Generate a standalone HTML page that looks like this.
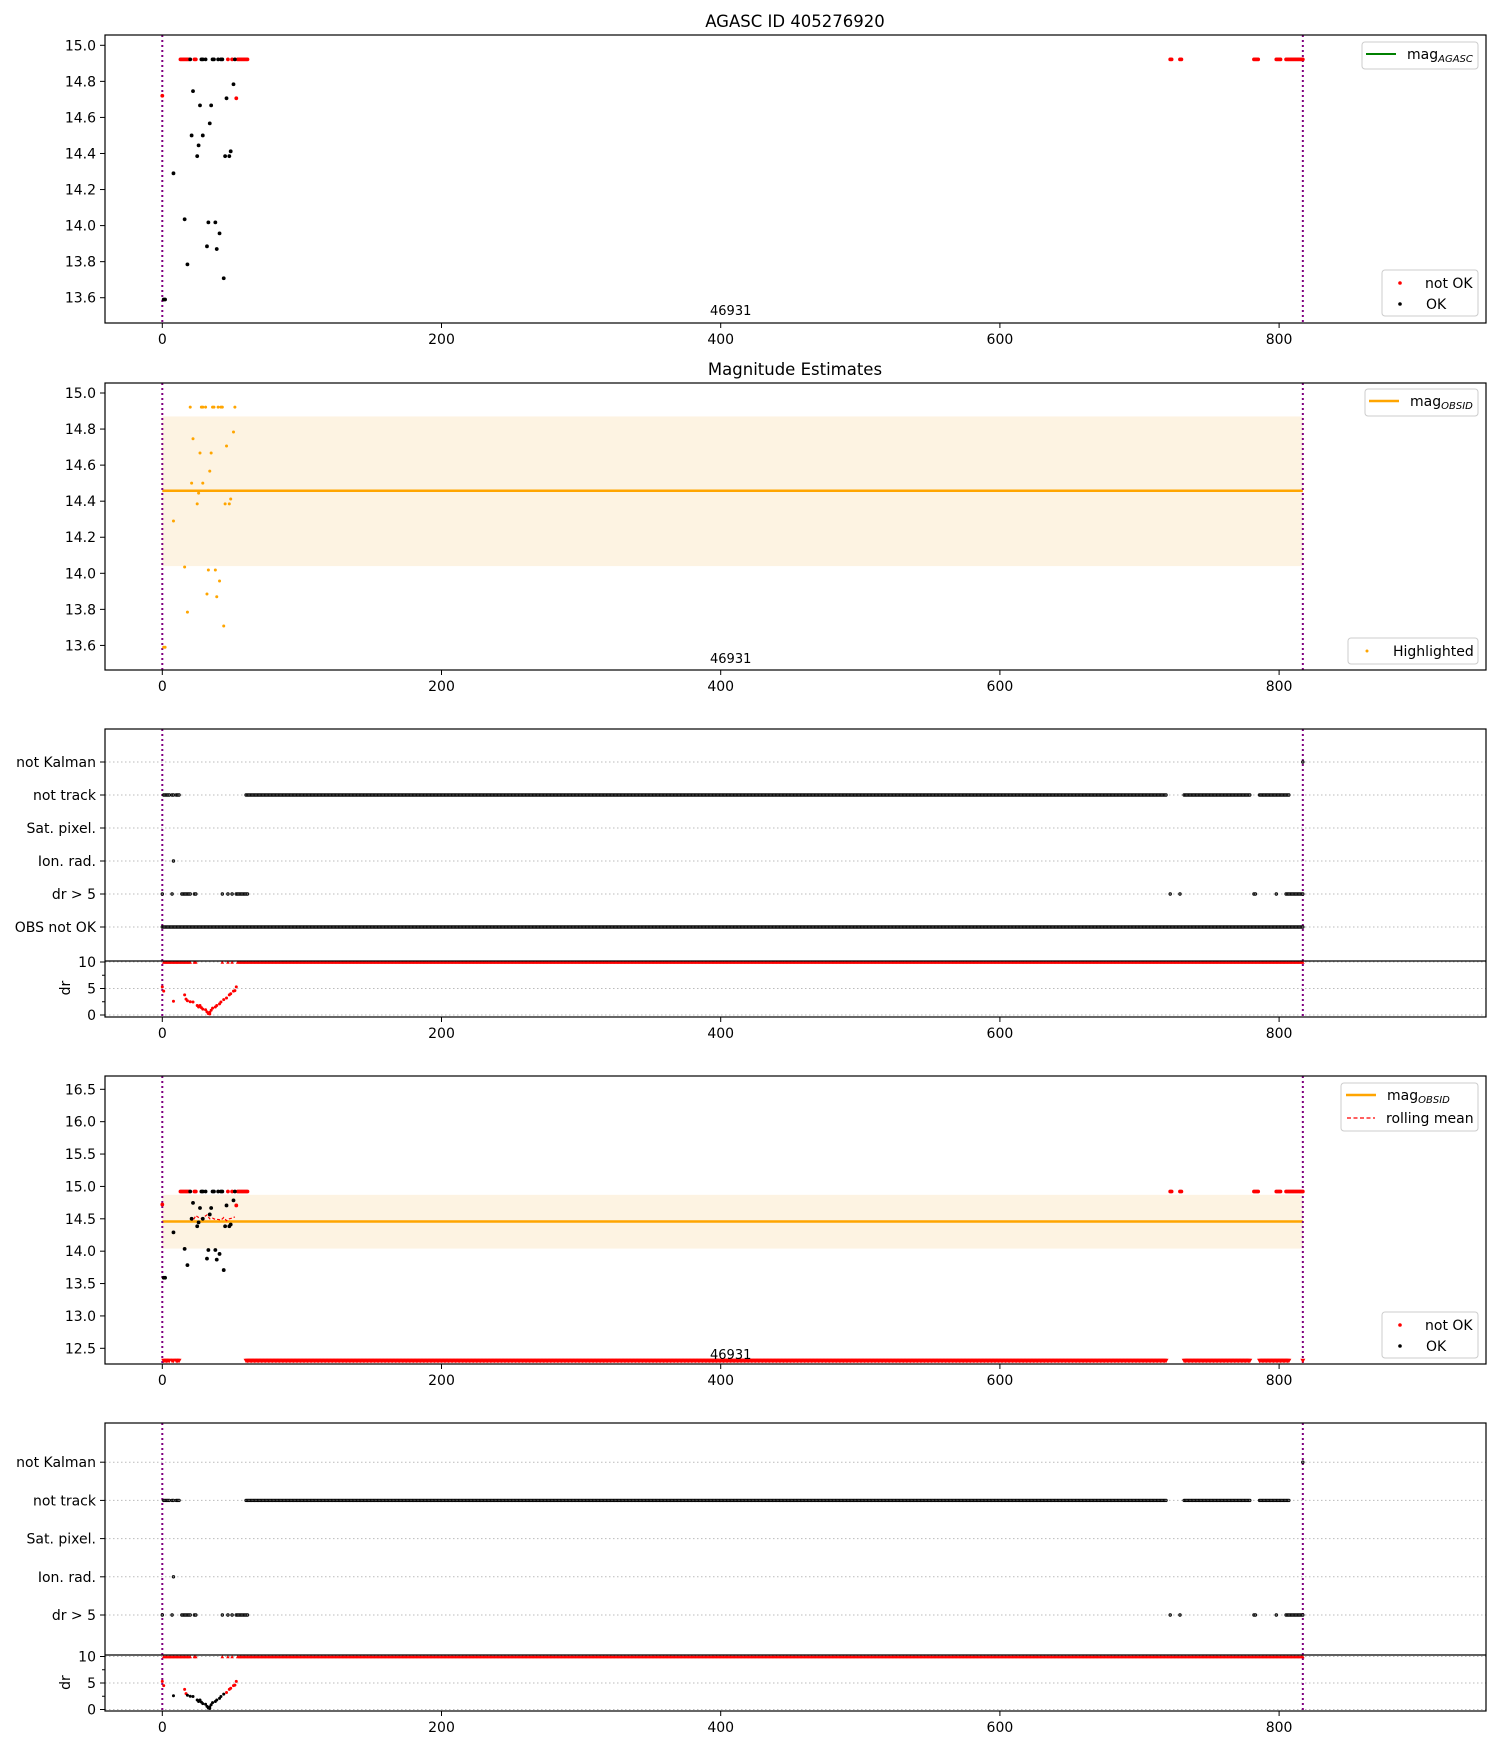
<!DOCTYPE html>
<html><head><meta charset="utf-8">
<style>
html,body{margin:0;padding:0;background:#fff;}
svg{display:block;font-family:"DejaVu Sans","Liberation Sans",sans-serif;}
</style></head>
<body>
<svg id="fig" width="1500" height="1750" viewBox="0 0 1500 1750" xmlns="http://www.w3.org/2000/svg">
<rect width="1500" height="1750" fill="#fff"/>
</svg>
<script>
// ---- data ----
const xTicks = [0, 200, 400, 600, 800];
const magTicks1 = [13.6, 13.8, 14.0, 14.2, 14.4, 14.6, 14.8, 15.0];
const magTicks4 = [12.5, 13.0, 13.5, 14.0, 14.5, 15.0, 15.5, 16.0, 16.5];
const flagLabels = ["OBS not OK", "dr > 5", "Ion. rad.", "Sat. pixel.", "not track", "not Kalman"];
const drTicks = [0, 5, 10];
const okX = [1,2,8,16,18,21,22,25,26,27,29,32,33,34,35,38,39,41,44,45,46,48,49,51,20,28,29,31,36,37,40,42,43,52];
const okY = [13.59,13.59,14.29,14.035,13.785,14.50,14.746,14.385,14.445,14.667,14.50,13.885,14.018,14.567,14.667,14.018,13.87,13.957,13.708,14.385,14.706,14.385,14.412,14.784,14.922,14.922,14.922,14.922,14.922,14.922,14.922,14.922,14.922,14.922];
const notOkX = [0,53,13,14,15,16,17,18,19,23,24,47,50,54,55,56,57,58,59,60,61,722,723,729,730,782,783,784,785,798,799,800,801,805,806,807,808,809,810,811,812,813,814,815,816,817];
const notOkY = [14.72,14.706,14.922,14.922,14.922,14.922,14.922,14.922,14.922,14.922,14.922,14.922,14.922,14.922,14.922,14.922,14.922,14.922,14.922,14.922,14.922,14.922,14.922,14.922,14.922,14.922,14.922,14.922,14.922,14.922,14.922,14.922,14.922,14.922,14.922,14.922,14.922,14.922,14.922,14.922,14.922,14.922,14.922,14.922,14.922,14.922];
const magObsid = 14.458;
const magBandLow = 14.04;
const magBandHigh = 14.87;
const obsStart = 0;
const obsEnd = 817;
const rmX = [20,22,24,26,28,30,32,34,36,38,40,42,44,46,48,50,52];
const rmY = [14.50,14.47,14.55,14.52,14.50,14.53,14.56,14.50,14.51,14.49,14.49,14.48,14.52,14.47,14.50,14.51,14.53];
const obsNotOkRanges = [[0,817]];
const drGt5X = [0,7,14,15,16,17,18,19,20,23,24,43,47,50,53,54,55,56,57,58,59,60,61,722,729,782,783,798,805,806,807,808,809,810,811,812,813,814,815,816,817];
const ionRadX = [8];
const notTrackRanges = [[1,5],[7,8],[10,12],[60,719],[732,779],[786,807]];
const notKalmanX = [817];
const drX = [0,1,8,16,17,18,20,22,25,26,27,28,29,31,32,33,34,34,35,36,38,39,41,42,44,46,48,49,51,52,53];
const drY = [5.3,4.5,2.6,3.8,3.0,2.7,2.5,2.45,1.8,1.5,1.8,1.4,1.1,1.0,0.6,0.25,0.2,0.5,0.9,1.3,1.5,1.8,2.1,2.45,2.9,3.2,3.8,4.0,4.5,4.6,5.3];
const drOk = [0,0,1,0,0,1,1,1,1,1,1,1,1,1,1,1,1,1,1,1,1,1,1,1,1,0,0,0,0,0,0];
const drClipRanges = [[1,20],[23,24],[43,43],[47,47],[50,50],[54,817]];
const drClipValue = 10;
const bottomMag = 12.3;

// ---- helpers ----
const NS = "http://www.w3.org/2000/svg";
const svg = document.getElementById("fig");
function mk(tag, attrs, parent) {
  const e = document.createElementNS(NS, tag);
  for (const k in attrs) e.setAttribute(k, attrs[k]);
  (parent || svg).appendChild(e);
  return e;
}
function txt(s, x, y, anchor, size, parent) {
  const t = mk("text", {x: x, y: y, "text-anchor": anchor || "middle", "font-size": size || 14, fill: "#000"}, parent);
  t.textContent = s;
  return t;
}
function expand(ranges) { const out = []; ranges.forEach(r => { for (let i = r[0]; i <= r[1]; i++) out.push(i); }); return out; }
const L = 105, R = 1486;
const xs = v => 162.3 + v * 1.396;

function xAxis(g, bottom) {
  xTicks.forEach(t => {
    mk("line", {x1: xs(t), x2: xs(t), y1: bottom, y2: bottom + 5, stroke: "#000", "stroke-width": 1}, g);
    const e = txt(String(t), xs(t), bottom + 21, "middle", 14, g);
    
    
  });
}
function frame(g, top, bottom) {
  const r = mk("rect", {x: L, y: top, width: R - L, height: bottom - top, fill: "none", stroke: "#000", "stroke-width": 1.2}, g);
  
  
}
function vlines(g, top, bottom) {
  [obsStart, obsEnd].forEach(v => {
    const l = mk("line", {x1: xs(v), x2: xs(v), y1: top, y2: bottom, stroke: "#800080", "stroke-width": 2, "stroke-dasharray": "2,3"}, g);
    
    
  });
}
function yTicks(g, ticks, ys, fmt) {
  ticks.forEach(t => {
    mk("line", {x1: L - 5, x2: L, y1: ys(t), y2: ys(t), stroke: "#000", "stroke-width": 1}, g);
    const e = txt(fmt(t), L - 9, ys(t) + 5, "end", 14, g);
    
    
  });
}
function dot(g, x, y, r, c, name) {
  const d = mk("circle", {cx: x, cy: y, r: r, fill: c}, g);
  
  
  return d;
}
function legendBox(g, x, y, w, h) {
  const b = mk("rect", {x: x, y: y, width: w, height: h, rx: 3, fill: "#fff", stroke: "#ccc", "stroke-width": 1}, g);
  
  
}
function subLabel(g, x, y, main, sub) {
  const t = mk("text", {x: x, y: y, "font-size": 14, fill: "#000"}, g);
  t.textContent = main;
  const s = mk("tspan", {"font-size": 10, "font-style": "italic", dy: 3}, t);
  s.textContent = sub;
  return t;
}
function okLegend(g, y0) {
  legendBox(g, 1382, y0, 96, 46);
  dot(g, 1400, y0 + 13, 1.8, "red", "legend-marker-not-ok");
  const a = txt("not OK", 1425, y0 + 18, "start", 14, g);
  
  
  dot(g, 1400, y0 + 34, 1.8, "#000", "legend-marker-ok");
  const b = txt("OK", 1426, y0 + 39, "start", 14, g);
  
  
}

// ---- Panel 1 ----
(function(){
  const g = mk("g", {});  
  const top = 35, bottom = 323;
  const ys = v => 45.3 + (15 - v) * 180.3;
  const t = txt("AGASC ID 405276920", 795, 27, "middle", 16.5, g);
   
  vlines(g, top, bottom);
  notOkX.forEach((x, i) => dot(g, xs(x), ys(notOkY[i]), 1.9, "red", "not-ok-point"));
  okX.forEach((x, i) => dot(g, xs(x), ys(okY[i]), 1.9, "#000", "ok-point"));
  frame(g, top, bottom);
  yTicks(g, magTicks1, ys, v => v.toFixed(1));
  xAxis(g, bottom);
  const o = txt("46931", xs(400) + 10, 315, "middle", 13, g);
   
  legendBox(g, 1362, 42, 116, 27);
  mk("line", {x1: 1366, x2: 1396, y1: 54, y2: 54, stroke: "green", "stroke-width": 2}, g);
  const le = subLabel(g, 1407, 59, "mag", "AGASC");
   
  okLegend(g, 270);
})();

// ---- Panel 2 ----
(function(){
  const g = mk("g", {});  
  const top = 383, bottom = 670;
  const ys = v => 393 + (15 - v) * 180.3;
  const t = txt("Magnitude Estimates", 795, 375, "middle", 16.5, g);
   
  const band = mk("rect", {x: xs(obsStart), y: ys(magBandHigh), width: xs(obsEnd) - xs(obsStart), height: ys(magBandLow) - ys(magBandHigh), fill: "#fdf3e2"}, g);
   
  const ln = mk("line", {x1: xs(obsStart), x2: xs(obsEnd), y1: ys(magObsid), y2: ys(magObsid), stroke: "orange", "stroke-width": 2.5}, g);
   
  vlines(g, top, bottom);
  okX.forEach((x, i) => dot(g, xs(x), ys(okY[i]), 1.5, "orange", "highlighted-point"));
  frame(g, top, bottom);
  yTicks(g, magTicks1, ys, v => v.toFixed(1));
  xAxis(g, bottom);
  const o = txt("46931", xs(400) + 10, 663, "middle", 13, g);
   
  legendBox(g, 1365, 389, 113, 27);
  mk("line", {x1: 1369, x2: 1399, y1: 401, y2: 401, stroke: "orange", "stroke-width": 2.5}, g);
  const le = subLabel(g, 1410, 406, "mag", "OBSID");
   
  legendBox(g, 1348, 638, 130, 26);
  dot(g, 1367, 651, 1.5, "orange", "legend-marker-highlighted");
  const h = txt("Highlighted", 1393, 656, "start", 14, g);
   
})();

// ---- flags panel builder ----
function flagsPanel(name, top, mid, bottom, rowY, rows, drZero, drColored) {
  const g = mk("g", {});  
  const dys = v => drZero - v * 5.3;
  rows.forEach(i => {
    const y = rowY(i);
    mk("line", {x1: L, x2: R, y1: y, y2: y, stroke: "#bbb", "stroke-width": 1, "stroke-dasharray": "1.5,2.5"}, g);
    mk("line", {x1: L - 5, x2: L, y1: y, y2: y, stroke: "#000"}, g);
    const e = txt(flagLabels[i], L - 9, y + 5, "end", 14, g);
    
    
  });
  drTicks.forEach(t => mk("line", {x1: L, x2: R, y1: dys(t), y2: dys(t), stroke: "#bbb", "stroke-width": 1, "stroke-dasharray": "1.5,2.5"}, g));
  vlines(g, top, bottom);
  const flagPts = {0: expand(obsNotOkRanges), 1: drGt5X, 2: ionRadX, 4: expand(notTrackRanges), 5: notKalmanX};
  rows.forEach(i => {
    (flagPts[i] || []).forEach(x => {
      const c = mk("circle", {cx: xs(x), cy: rowY(i), r: 1.3, fill: "#777", stroke: "#000", "stroke-width": 0.8}, g);
      
      
    });
  });
  expand(drClipRanges).forEach(x => {
    const y = dys(drClipValue);
    const p = mk("path", {d: `M${xs(x)-1.8},${y+1.8} L${xs(x)+1.8},${y+1.8} L${xs(x)},${y-1.5} Z`, fill: "red"}, g);
    
    
  });
  drX.forEach((x, i) => dot(g, xs(x), dys(drY[i]), 1.5, (drColored && drOk[i]) ? "#000" : "red", "dr-point"));
  frame(g, top, bottom);
  mk("line", {x1: L, x2: R, y1: mid, y2: mid, stroke: "#000", "stroke-width": 1.2}, g);
  yTicks(g, drTicks, dys, v => String(v));
  [2.5, 7.5].forEach(t => mk("line", {x1: L - 3, x2: L, y1: dys(t), y2: dys(t), stroke: "#000"}, g));
  const yl = txt("dr", 0, 0, "middle", 14, g);
  yl.setAttribute("transform", `translate(70,${drZero - 27}) rotate(-90)`);
  
  
  xAxis(g, bottom);
}
flagsPanel("flags-panel-1", 729, 961, 1017, i => 927 - i * 33, [0,1,2,3,4,5], 1015, false);

// ---- Panel 4 ----
(function(){
  const g = mk("g", {});  
  const top = 1076, bottom = 1364;
  const ys = v => 1348.3 - (v - 12.5) * 64.75;
  const band = mk("rect", {x: xs(obsStart), y: ys(magBandHigh), width: xs(obsEnd) - xs(obsStart), height: ys(magBandLow) - ys(magBandHigh), fill: "#fdf3e2"}, g);
   
  const ln = mk("line", {x1: xs(obsStart), x2: xs(obsEnd), y1: ys(magObsid), y2: ys(magObsid), stroke: "orange", "stroke-width": 2.5}, g);
   
  vlines(g, top, bottom);
  const rm = mk("polyline", {points: rmX.map((x, i) => xs(x) + "," + ys(rmY[i])).join(" "), fill: "none", stroke: "red", "stroke-width": 1.2, "stroke-dasharray": "3,2"}, g);
   
  notOkX.forEach((x, i) => dot(g, xs(x), ys(notOkY[i]), 1.9, "red", "not-ok-point"));
  okX.forEach((x, i) => dot(g, xs(x), ys(okY[i]), 1.9, "#000", "ok-point"));
  expand(notTrackRanges).concat(notKalmanX).forEach(x => {
    const y = ys(bottomMag);
    const p = mk("path", {d: `M${xs(x)-2.5},${y-2.5} L${xs(x)+2.5},${y-2.5} L${xs(x)},${y+2} Z`, fill: "red"}, g);
    
    
  });
  frame(g, top, bottom);
  yTicks(g, magTicks4, ys, v => v.toFixed(1));
  xAxis(g, bottom);
  const o = txt("46931", xs(400) + 10, 1359, "middle", 13, g);
   
  legendBox(g, 1341, 1083, 137, 48);
  mk("line", {x1: 1346, x2: 1376, y1: 1095, y2: 1095, stroke: "orange", "stroke-width": 2.5}, g);
  const le = subLabel(g, 1387, 1100, "mag", "OBSID");
   
  mk("line", {x1: 1347, x2: 1375, y1: 1118, y2: 1118, stroke: "red", "stroke-width": 1.3, "stroke-dasharray": "4,2.5"}, g);
  const rl = txt("rolling mean", 1386, 1123, "start", 14, g);
   
  okLegend(g, 1312);
})();

flagsPanel("flags-panel-2", 1423, 1655, 1711, i => 1615 - (i - 1) * 38.2, [1,2,3,4,5], 1709.5, true);
</script>
</body></html>
